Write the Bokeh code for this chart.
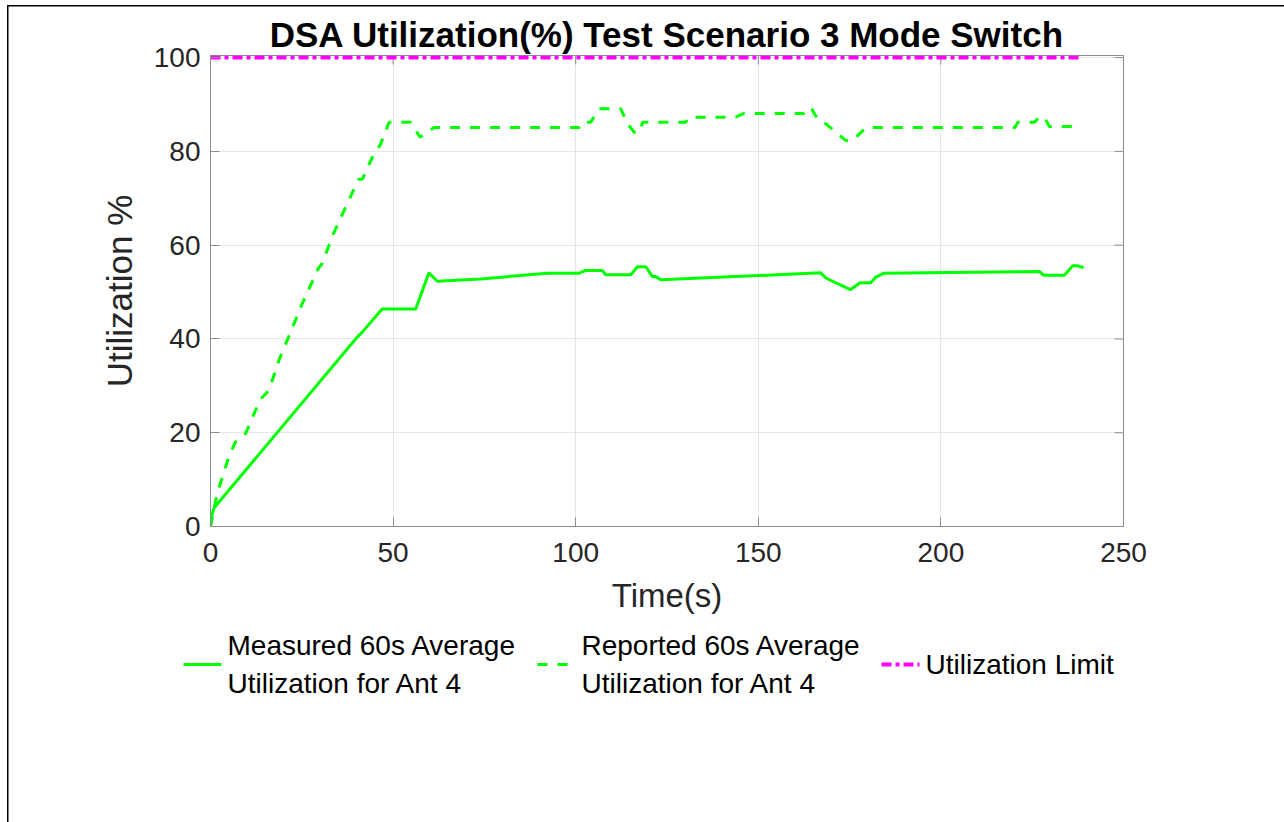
from bokeh.plotting import figure
from bokeh.layouts import column
from bokeh.models import Range1d, FixedTicker
from bokeh.core.properties import value
from bokeh.embed import file_html
from bokeh.resources import INLINE

title_text = "DSA Utilization(%) Test Scenario 3 Mode Switch"
x_label = "Time(s)"
y_label = "Utilization %"
x_ticks = [0, 50, 100, 150, 200, 250]
y_ticks = [0, 20, 40, 60, 80, 100]

measured_t = [0, 1, 40.2, 41.5, 47.0, 56.2, 59.8, 62.1, 74.0, 92.2, 100.9, 102.7, 107.3, 108.2,
              115.1, 116.9, 119.2, 121.0, 121.9, 123.3, 167.1, 168.5, 175.2, 177.9, 180.8,
              182.2, 184.3, 226.9, 228.1, 233.8, 236.1, 237.3, 239.1]
measured_u = [1.5, 4.0, 40.4, 41.4, 46.4, 46.4, 54.1, 52.3, 52.8, 54.0, 54.0, 54.6, 54.6, 53.7,
              53.7, 55.4, 55.4, 53.3, 53.3, 52.6, 54.1, 53.0, 50.5, 52.0, 52.0,
              53.2, 54.0, 54.4, 53.6, 53.6, 55.6, 55.6, 55.2]

reported_t = [0, 1.8, 5.0, 6.8, 9.6, 11.9, 13.7, 16.0, 18.7, 21.9, 25.1, 29.5, 30.5, 33.8,
              40.5, 41.6, 44.3, 46.6, 48.9, 54.8, 57.4, 61.2, 101.0, 101.8, 104.1, 106.4,
              112.3, 114.2, 116.0, 117.5, 118.3, 130.1, 131.0, 143.8, 146.1, 162.5, 164.4,
              166.2, 168.0, 174.0, 175.8, 179.5, 220.3, 221.0, 225.6, 226.9, 228.3, 229.7, 237.9]
reported_u = [0, 7.0, 14.8, 18.0, 19.8, 24.0, 27.2, 29.0, 35.4, 41.4, 47.5, 55.0, 56.0, 62.7,
              74.0, 74.1, 78.7, 81.6, 86.2, 86.2, 83.0, 85.1, 85.1, 86.2, 86.2, 89.1,
              89.1, 85.9, 84.1, 84.1, 86.2, 86.2, 87.3, 87.3, 88.1, 88.1, 89.4,
              86.9, 86.2, 82.3, 82.3, 85.1, 85.1, 86.2, 86.2, 87.3, 87.3, 85.3, 85.3]

limit_t = [0, 238.8]
limit_u = [100, 100]

series_labels = ["Measured 60s Average\nUtilization for Ant 4",
                 "Reported 60s Average\nUtilization for Ant 4",
                 "Utilization Limit"]

FONT = "Liberation Sans"
TXT = "#262626"
AX = "#8c8c8c"
GREEN = "#00ff00"
MAGENTA = "#ff00ff"
DASH = "10 10"
DASHDOT = "10 4 4 4"
X0, X1 = 0, 250
Y0, Y1 = 0, 100.45

# ---------------- main chart ----------------
p = figure(width=1284, height=620, output_backend="svg", toolbar_location=None,
           x_range=Range1d(X0, X1), y_range=Range1d(Y0, Y1),
           min_border_left=210, min_border_right=161, min_border_top=55, min_border_bottom=94)
p.frame_align = False
p.outline_line_color = AX
p.outline_line_width = 1
p.background_fill_color = "white"
p.border_fill_color = None
p.styles = {"background-color": "white",
            "box-shadow": ("inset 0 5px 0 0 white, inset 7px 0 0 0 white, "
                           "inset 0 6.5px 0 0 black, inset 8.5px 0 0 0 black")}

for ax in (p.xaxis[0], p.yaxis[0]):
    ax.axis_line_color = AX
    ax.major_tick_line_color = AX
    ax.major_tick_in = 9
    ax.major_tick_out = 0
    ax.minor_tick_line_color = None
    ax.major_label_text_font = FONT
    ax.major_label_text_font_size = "28px"
    ax.major_label_text_color = TXT
    ax.axis_label_text_font = FONT
    ax.axis_label_text_font_style = "normal"
    ax.axis_label_text_color = TXT

p.xaxis[0].ticker = FixedTicker(ticks=x_ticks)
p.yaxis[0].ticker = FixedTicker(ticks=y_ticks)
p.xaxis[0].axis_label = x_label
p.yaxis[0].axis_label = y_label
p.xaxis[0].axis_label_text_font_size = "33px"
p.yaxis[0].axis_label_text_font_size = "35px"
p.xaxis[0].major_label_standoff = 16
p.xaxis[0].axis_label_standoff = 12
p.yaxis[0].major_label_standoff = 10
p.yaxis[0].axis_label_standoff = 12

p.xgrid.ticker = FixedTicker(ticks=x_ticks)
p.ygrid.ticker = FixedTicker(ticks=y_ticks)
p.xgrid.grid_line_color = "#e6e6e6"
p.ygrid.grid_line_color = "#e6e6e6"

# inward ticks on the top and right edges of the box (9 px long)
ppx = 913 / (X1 - X0)
ppy = 471 / (Y1 - Y0)
p.segment(x0=x_ticks, x1=x_ticks, y0=[Y1] * len(x_ticks), y1=[Y1 - 9 / ppy] * len(x_ticks),
          line_color=AX, line_width=1)
p.segment(x0=[X1] * len(y_ticks), x1=[X1 - 9 / ppx] * len(y_ticks), y0=y_ticks, y1=y_ticks,
          line_color=AX, line_width=1)

p.line(measured_t, measured_u, line_color=GREEN, line_width=3)
p.line(reported_t, reported_u, line_color=GREEN, line_width=3, line_dash=DASH)
p.line(limit_t, limit_u, line_color=MAGENTA, line_width=4, line_dash=DASHDOT)

p.title.text = title_text
p.title.align = "center"
p.title.text_font = FONT
p.title.text_font_size = "35px"
p.title.text_font_style = "bold"
p.title.text_color = "black"
p.title.standoff = 4

# ---------------- legend strip ----------------
LH = 202
lg = figure(width=1284, height=LH, output_backend="svg", toolbar_location=None,
            x_range=Range1d(0, 1284), y_range=Range1d(0, LH),
            x_axis_location=None, y_axis_location=None,
            min_border_left=0, min_border_right=0, min_border_top=0, min_border_bottom=0)
lg.frame_align = False
lg.outline_line_color = None
lg.grid.visible = False
lg.background_fill_color = None
lg.border_fill_color = None
lg.styles = {"background-color": "white",
             "box-shadow": "inset 7px 0 0 0 white, inset 8.5px 0 0 0 black"}

glyph_left = [183, 537, 881]
glyph_w = 38
gap = 6
row_y = 158
styles = [dict(line_color=GREEN, line_width=3),
          dict(line_color=GREEN, line_width=3, line_dash=DASH),
          dict(line_color=MAGENTA, line_width=4, line_dash=DASHDOT)]
for gx, st in zip(glyph_left, styles):
    lg.line([gx, gx + glyph_w], [row_y, row_y], **st)

lg.text(x=[g + glyph_w + gap for g in glyph_left], y=[row_y] * 3, text=series_labels,
        text_font=value(FONT), text_font_size="28px", text_color="black",
        text_baseline="middle", text_align="left", text_line_height=1.23)

open("out.html", "w").write(file_html(column(p, lg, spacing=0), INLINE))
